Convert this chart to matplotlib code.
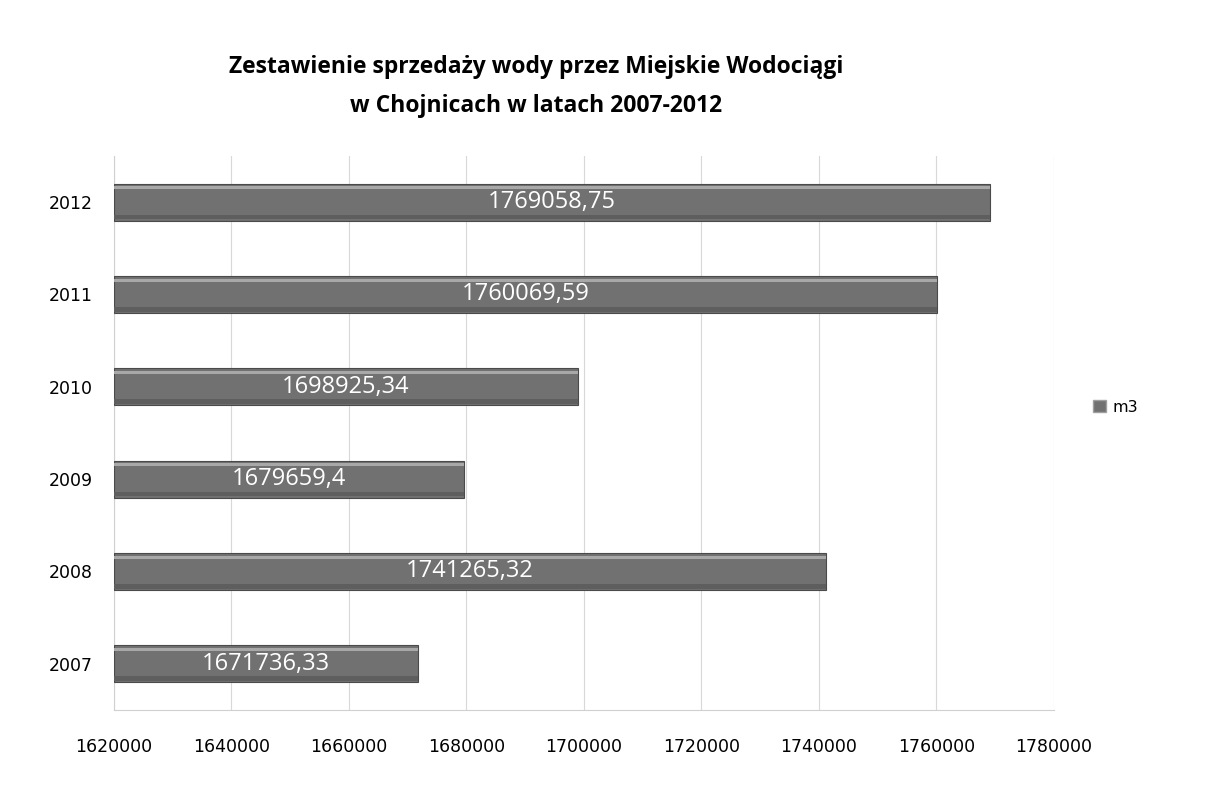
import matplotlib
matplotlib.use("Agg")
import matplotlib.pyplot as plt
from matplotlib.patches import Patch

years = ["2007", "2008", "2009", "2010", "2011", "2012"]
values = [1671736.33, 1741265.32, 1679659.4, 1698925.34, 1760069.59, 1769058.75]
labels = ["1671736,33", "1741265,32", "1679659,4", "1698925,34", "1760069,59", "1769058,75"]
xticks = [1620000, 1640000, 1660000, 1680000, 1700000, 1720000, 1740000, 1760000, 1780000]
title = "Zestawienie sprzedaży wody przez Miejskie Wodociągi\nw Chojnicach w latach 2007-2012"

fig = plt.figure(figsize=(12.05, 7.91), dpi=100)
ax = fig.add_axes([0.0946, 0.1024, 0.7800, 0.7004])

x0 = xticks[0]
ypos = list(range(len(years)))
ax.barh(ypos, [v - x0 for v in values], left=x0, height=0.4,
        color="#717171", edgecolor="#4a4a4a", linewidth=0.8, zorder=3)
# lighter upper band and darker lower band for the bevelled look
for y, v in zip(ypos, values):
    ax.barh(y + 0.155, v - x0, left=x0, height=0.035, color="#a8a8a8",
            linewidth=0, zorder=4)
    ax.barh(y - 0.16, v - x0, left=x0, height=0.05, color="#5e5e5e",
            linewidth=0, zorder=4)

for y, v, lab in zip(ypos, values, labels):
    ax.text((x0 + v) / 2, y, lab, ha="center", va="center", color="white",
            fontsize=17, family="Open Sans", zorder=5)

ax.set_xlim(xticks[0], xticks[-1])
ax.set_ylim(-0.5, len(years) - 0.5)
ax.set_xticks(xticks)
ax.set_xticklabels([str(t) for t in xticks], fontsize=12.5, family="DejaVu Sans")
ax.set_yticks(ypos)
ax.set_yticklabels(years, fontsize=12.5, family="DejaVu Sans")
ax.tick_params(axis="y", length=0, pad=15)
ax.tick_params(axis="x", length=0, pad=20)
ax.grid(axis="x", color="#d8d8d8", linewidth=0.8, zorder=0)
for s in ["top", "right"]:
    ax.spines[s].set_visible(False)
ax.spines["left"].set_color("#d0d0d0")
ax.spines["bottom"].set_color("#d0d0d0")

fig.text(0.445, 0.891, title, ha="center", va="center", fontsize=16.5,
         fontweight="bold", family="Open Sans", linespacing=1.85)

fig.legend(handles=[Patch(facecolor="#717171", edgecolor="#a0a0a0", label="m3")],
           loc="center left", bbox_to_anchor=(0.895, 0.485), frameon=False,
           fontsize=11.5, handlelength=0.8, handleheight=0.8, handletextpad=0.4)

fig.savefig("out.png", dpi=100, facecolor="white")
